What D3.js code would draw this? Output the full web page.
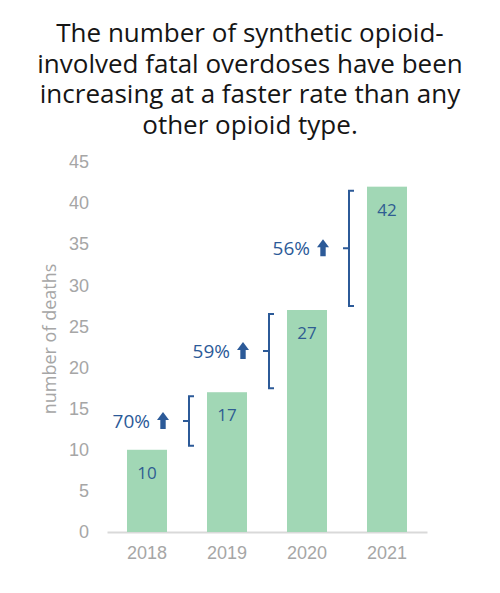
<!DOCTYPE html>
<html>
<head>
<meta charset="utf-8">
<script src="https://cdn.jsdelivr.net/npm/d3@7"></script>
<style>
  body { margin: 0; background: #fff; }
  svg { display: block; font-family: "Open Sans", "Noto Sans", sans-serif; }
  .tick-label { fill: #a6a6a6; font-size: 18px; }
</style>
</head>
<body>
<svg id="chart"></svg>
<script>
// chart data
const years = ["2018", "2019", "2020", "2021"];
const deaths = [10, 17, 27, 42];
const changeLabels = ["70%", "59%", "56%"];
const yTicks = [0, 5, 10, 15, 20, 25, 30, 35, 40, 45];
const titleLines = [
    "The number of synthetic opioid-",
    "involved fatal overdoses have been",
    "increasing at a faster rate than any",
    "other opioid type."
];

const width = 500;
const height = 593;
const blue = "#2c5a98";

const svg = d3.select('#chart').attr('width', width).attr('height', height);

// title
svg.append('g').selectAll('text')
    .data(titleLines)
    .enter()
    .append('text')
    .attr('x', width / 2)
    .attr('y', (d, i) => 42 + i * 30.5)
    .attr('text-anchor', 'middle')
    .attr('font-size', 26)
    .attr('fill', '#151515')
    .text(d => d);

const x = d3.scaleBand().domain(years).range([107, 427]).paddingInner(0.5).paddingOuter(0.25);
const y = d3.scaleLinear().domain([0, 45]).range([532, 162]);

// y axis (labels only)
const yAxis = svg.append('g')
    .attr('transform', 'translate(107,0)')
    .call(d3.axisLeft(y).tickValues(yTicks).tickSize(0).tickPadding(18));
yAxis.select('.domain').remove();
yAxis.selectAll('text').attr('class', 'tick-label').attr('font-family', null).attr('font-size', null);

// x axis
const xAxis = svg.append('g')
    .attr('transform', 'translate(0,532)')
    .call(d3.axisBottom(x).tickSize(0).tickPadding(14));
xAxis.select('.domain').attr('stroke', '#d9d9d9').attr('stroke-width', 2);
xAxis.selectAll('text').attr('class', 'tick-label').attr('font-family', null).attr('font-size', null);

// y axis title
svg.append('text')
    .attr('transform', 'translate(56,339) rotate(-90)')
    .attr('text-anchor', 'middle')
    .attr('font-size', 18)
    .attr('fill', '#a6a6a6')
    .text('number of deaths');

// bars
svg.append('g').selectAll('rect')
    .data(deaths)
    .enter()
    .append('rect')
    .attr('x', (d, i) => x(years[i]))
    .attr('y', d => y(d))
    .attr('width', x.bandwidth())
    .attr('height', d => y(0) - y(d))
    .attr('fill', '#a1d7b5');

// value labels
svg.append('g').selectAll('text')
    .data(deaths)
    .enter()
    .append('text')
    .attr('x', (d, i) => x(years[i]) + x.bandwidth() / 2)
    .attr('y', d => y(d) + 23)
    .attr('dy', '0.35em')
    .attr('text-anchor', 'middle')
    .attr('font-size', 17)
    .attr('fill', '#2f5d92')
    .text(d => d);

// growth brackets
const notes = changeLabels.map((label, i) => {
    const top = y(deaths[i + 1]) + 4;
    const bottom = y(deaths[i]) - 4;
    return { label, bx: x(years[i + 1]) - 18, top, bottom, mid: (top + bottom) / 2 };
});

const noteGroup = svg.append('g');

noteGroup.selectAll('path.bracket')
    .data(notes)
    .enter()
    .append('path')
    .attr('class', 'bracket')
    .attr('d', d => `M${d.bx + 5},${d.top} H${d.bx} V${d.bottom} H${d.bx + 5} M${d.bx},${d.mid} H${d.bx - 6}`)
    .attr('fill', 'none')
    .attr('stroke', blue)
    .attr('stroke-width', 2);

// up arrows
noteGroup.selectAll('path.arrow')
    .data(notes)
    .enter()
    .append('path')
    .attr('class', 'arrow')
    .attr('d', d => {
        const ax = d.bx - 26;
        const t = d.mid - 9;
        return `M${ax},${t} L${ax + 6},${t + 8} H${ax + 2.7} V${t + 17} H${ax - 2.7} V${t + 8} H${ax - 6} Z`;
    })
    .attr('fill', blue);

noteGroup.selectAll('text')
    .data(notes)
    .enter()
    .append('text')
    .attr('x', d => d.bx - 39)
    .attr('y', d => d.mid)
    .attr('dy', '0.35em')
    .attr('text-anchor', 'end')
    .attr('font-size', 19)
    .attr('fill', blue)
    .text(d => d.label);
</script>
</body>
</html>
